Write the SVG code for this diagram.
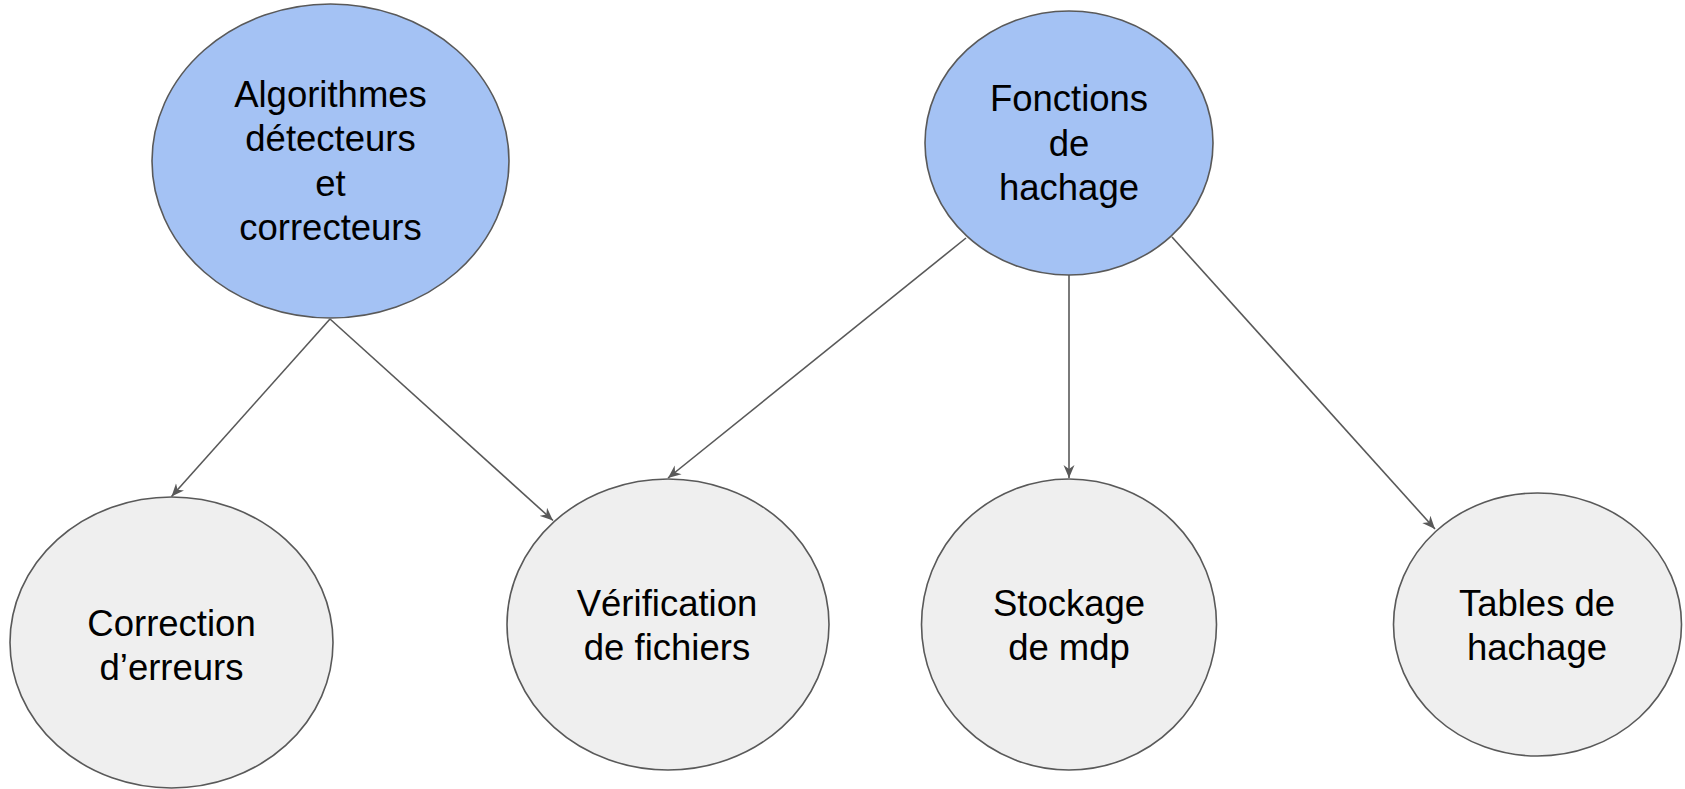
<svg xmlns="http://www.w3.org/2000/svg" width="1685" height="789" viewBox="0 0 1685 789">
<style>
.top{fill:#a4c2f4;stroke:#595959;stroke-width:1.6}
.leaf{fill:#efefef;stroke:#595959;stroke-width:1.6}
.lbl{font-family:"Liberation Sans",Arial,sans-serif;font-size:36.5px;fill:#000;text-anchor:middle}
.edge{stroke:#595959;stroke-width:1.6;fill:none;marker-end:url(#arr)}
</style>
<defs>
<marker id="arr" markerUnits="userSpaceOnUse" markerWidth="14" markerHeight="12" viewBox="0 0 14 12" refX="13" refY="6" orient="auto">
<path d="M0,0.5 L13,6 L0,11.5 L4,6 z" fill="#595959"/>
</marker>
</defs>
<rect width="1685" height="789" fill="#fff"/>
<g id="connectors">
<line class="edge" x1="330" y1="319" x2="171.5" y2="496.5"/>
<line class="edge" x1="330" y1="319" x2="553" y2="520.5"/>
<line class="edge" x1="966" y1="238" x2="668" y2="478"/>
<line class="edge" x1="1069" y1="275" x2="1069" y2="478"/>
<line class="edge" x1="1172" y1="237" x2="1435" y2="529"/>
</g>
<g id="algorithmes">
<ellipse class="top" cx="330.5" cy="161" rx="178.5" ry="157"/>
<text class="lbl"><tspan x="330.5" y="107">Algorithmes</tspan><tspan x="330.5" y="151">détecteurs</tspan><tspan x="330.5" y="196">et</tspan><tspan x="330.5" y="240">correcteurs</tspan></text>
</g>
<g id="fonctions">
<ellipse class="top" cx="1069" cy="143" rx="144" ry="132"/>
<text class="lbl"><tspan x="1069" y="111">Fonctions</tspan><tspan x="1069" y="156">de</tspan><tspan x="1069" y="200">hachage</tspan></text>
</g>
<g id="correction">
<ellipse class="leaf" cx="171.5" cy="642.5" rx="161.5" ry="145.5"/>
<text class="lbl"><tspan x="171.5" y="636">Correction</tspan><tspan x="171.5" y="680">d’erreurs</tspan></text>
</g>
<g id="verification">
<ellipse class="leaf" cx="668" cy="624.5" rx="161" ry="145.5"/>
<text class="lbl"><tspan x="667" y="616">Vérification</tspan><tspan x="667" y="660">de fichiers</tspan></text>
</g>
<g id="stockage">
<ellipse class="leaf" cx="1069" cy="624.5" rx="147.5" ry="145.5"/>
<text class="lbl"><tspan x="1069" y="616">Stockage</tspan><tspan x="1069" y="660">de mdp</tspan></text>
</g>
<g id="tables">
<ellipse class="leaf" cx="1537.5" cy="624.5" rx="144" ry="131.5"/>
<text class="lbl"><tspan x="1537" y="616">Tables de</tspan><tspan x="1537" y="660">hachage</tspan></text>
</g>
</svg>
